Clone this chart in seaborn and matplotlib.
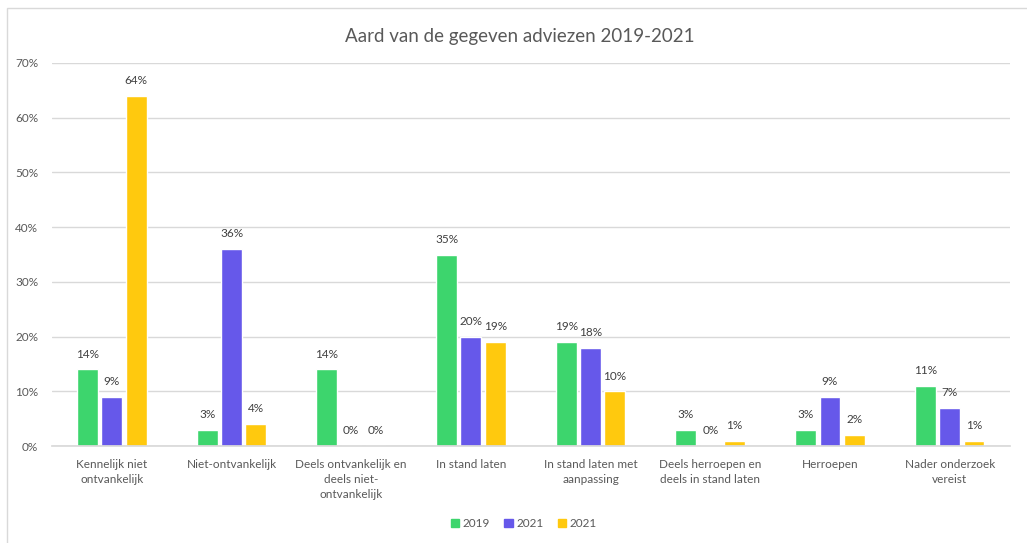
import matplotlib
matplotlib.use("Agg")
import matplotlib.pyplot as plt
import matplotlib.patches as mpatches
import seaborn as sns
import pandas as pd

categories = ["Kennelijk niet\nontvankelijk", "Niet-ontvankelijk",
              "Deels ontvankelijk en\ndeels niet-\nontvankelijk", "In stand laten",
              "In stand laten met\naanpassing", "Deels herroepen en\ndeels in stand laten",
              "Herroepen", "Nader onderzoek\nvereist"]
series_labels = ["2019", "2021", "2021"]
values_2019 = [14, 3, 14, 35, 19, 3, 3, 11]
values_2021a = [9, 36, 0, 20, 18, 0, 9, 7]
values_2021b = [64, 4, 0, 19, 10, 1, 2, 1]
colors = ["#3DD56D", "#6658EA", "#FFC90E"]

keys = ["s1", "s2", "s3"]
rows = []
for k, vals in zip(keys, [values_2019, values_2021a, values_2021b]):
    for c, v in zip(categories, vals):
        rows.append({"cat": c, "series": k, "value": v})
df = pd.DataFrame(rows)

sns.set_theme(style="white")
plt.rcParams['font.family'] = ['Lato', 'DejaVu Sans']

fig = plt.figure(figsize=(10.27, 5.43), dpi=100)
ax = fig.add_axes([0.0506, 0.1786, 0.9324, 0.7054])

sns.barplot(data=df, x="cat", y="value", hue="series", hue_order=keys,
            palette=dict(zip(keys, colors)), width=0.61, gap=0.14,
            saturation=1, ax=ax, legend=False)

ax.set_ylim(0, 70)
ax.set_yticks(range(0, 71, 10))
ax.set_yticklabels([f"{t}%" for t in range(0, 71, 10)], fontsize=8.5, color="#595959")
ax.tick_params(axis="x", labelsize=8.5, colors="#595959", length=0, pad=9)
ax.tick_params(axis="y", length=0, pad=10)
for lbl in ax.get_xticklabels():
    lbl.set_linespacing(1.45)
ax.set_xlabel("")
ax.set_ylabel("")
ax.grid(axis="y", color="#D9D9D9", linewidth=1)
ax.set_axisbelow(True)
for s in ["top", "right", "left"]:
    ax.spines[s].set_visible(False)
ax.spines["bottom"].set_color("#D9D9D9")
ax.set_xlim(-0.5, len(categories) - 0.5)

for cont in ax.containers:
    for bar in cont:
        h = bar.get_height()
        ax.annotate(f"{h:.0f}%", (bar.get_x() + bar.get_width() / 2, h),
                    xytext=(0, 7), textcoords="offset points",
                    ha="center", va="bottom", fontsize=8.5, color="#404040")

fig.text(0.506, 0.932, "Aard van de gegeven adviezen 2019-2021", ha="center",
         va="center", fontsize=13.5, color="#595959")

handles = [mpatches.Patch(color=c, label=l) for c, l in zip(colors, series_labels)]
fig.legend(handles=handles, loc="center", bbox_to_anchor=(0.51, 0.036), ncol=3,
           frameon=False, fontsize=8.5, handlelength=0.7, handleheight=0.7,
           handletextpad=0.3, columnspacing=1.2, labelcolor="#595959")

border = mpatches.Rectangle((7 / 1027, -0.01), 1.1, 1 - 8 / 543 + 0.01,
                            transform=fig.transFigure, fill=False,
                            edgecolor="#D9D9D9", linewidth=1)
fig.patches.append(border)

fig.savefig("out.png", dpi=100)
